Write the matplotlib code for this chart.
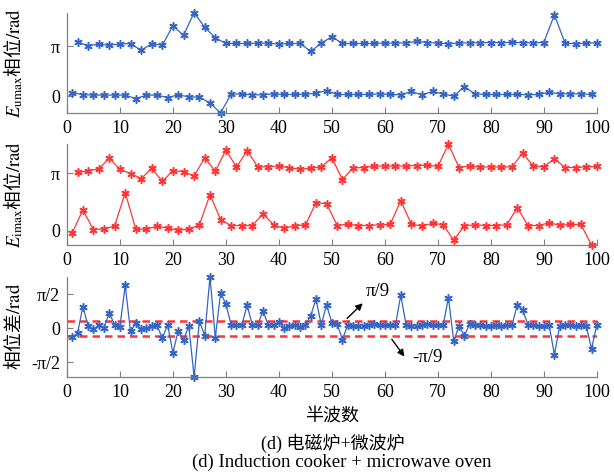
import matplotlib
matplotlib.use('Agg')
import matplotlib.pyplot as plt
import numpy as np

# 字体设置: 数字用Times风格, 中文用CJK
plt.rcParams['font.family'] = ['Liberation Serif', 'Noto Sans CJK SC']
plt.rcParams['mathtext.fontset'] = 'stix'

# 半波序号
x_odd = np.arange(1, 100, 2)
x_even = np.arange(2, 101, 2)
n_half = np.arange(1, 101)

# Eumax 相位 (偶数半波, 奇数半波)
u_even = [3.41, 3.16, 3.27, 3.19, 3.29, 3.29, 2.89, 3.29, 3.20, 4.42,
          3.82, 5.24, 4.32, 3.67, 3.31, 3.31, 3.31, 3.33, 3.33, 3.27,
          3.31, 3.31, 2.81, 3.33, 3.73, 3.31, 3.31, 3.31, 3.31, 3.33,
          3.33, 3.35, 3.44, 3.37, 3.33, 3.29, 3.33, 3.35, 3.35, 3.37,
          3.35, 3.39, 3.35, 3.35, 3.37, 5.11, 3.33, 3.29, 3.33, 3.35]
u_odd = [0.23, 0.10, 0.07, 0.07, 0.07, 0.07, -0.15, 0.07, 0.07, -0.08,
         0.09, -0.04, -0.06, -0.42, -1.05, 0.15, 0.13, 0.09, 0.09, 0.15,
         0.11, 0.11, 0.13, 0.19, 0.36, 0.11, 0.11, 0.11, 0.11, 0.15,
         0.11, 0.09, 0.30, 0.09, 0.30, 0.15, 0.00, 0.61, 0.15, 0.11,
         0.11, 0.11, 0.11, 0.09, 0.11, 0.25, 0.15, 0.15, 0.15, 0.11]

# Eimax 相位
i_even = [3.17, 3.26, 3.37, 3.94, 3.35, 3.11, 2.84, 3.39, 2.69, 3.26,
          3.22, 2.98, 3.97, 3.24, 4.40, 3.46, 4.36, 3.48, 3.48, 3.53,
          3.42, 3.35, 3.40, 3.48, 3.97, 2.78, 3.42, 3.44, 3.52, 3.52,
          3.52, 3.52, 3.55, 3.57, 3.50, 4.71, 3.44, 3.53, 3.46, 3.48,
          3.46, 3.48, 4.23, 3.52, 3.48, 3.92, 3.44, 3.44, 3.48, 3.50]
i_odd = [-0.13, 1.12, 0.05, 0.09, 0.24, 2.07, 0.07, 0.07, 0.24, 0.13,
         0.02, 0.07, 0.31, 1.96, 0.60, 0.27, 0.27, 0.27, 0.92, 0.31,
         0.11, 0.27, 0.29, 1.52, 1.47, 0.27, 0.35, 0.27, 0.27, 0.31,
         0.33, 1.63, 0.35, 0.24, 0.40, 0.31, -0.53, 0.26, 0.31, 0.27,
         0.27, 0.31, 1.25, 0.27, 0.27, 0.42, 0.29, 0.33, 0.33, -0.79]

# 相位差
diff = [-0.41, -0.23, 1.00, 0.12, -0.05, 0.15, 0.03, 0.73, 0.15, 0.08,
        1.99, -0.14, 0.23, -0.05, 0.00, 0.12, 0.14, -0.46, 0.17, -1.13,
        -0.11, -0.55, 0.12, -2.25, 0.34, -0.34, 2.39, -0.44, 1.65, 1.12,
        0.15, 0.15, 0.15, 1.07, 0.15, 0.15, 0.81, 0.15, 0.15, 0.31,
        0.00, 0.12, 0.15, 0.08, 0.15, 0.58, 1.35, 0.17, 1.09, 0.25,
        0.20, -0.52, 0.17, 0.11, 0.12, 0.12, 0.15, 0.20, 0.15, 0.15,
        0.15, 0.15, 1.53, 0.17, 0.12, 0.12, 0.15, 0.18, 0.15, 0.15,
        0.15, 1.42, -0.60, 0.12, -0.34, 0.20, 0.17, 0.15, 0.12, 0.12,
        0.15, 0.12, 0.17, 0.15, 1.09, 0.86, 0.17, 0.15, 0.12, 0.12,
        0.15, -1.21, 0.12, 0.15, 0.15, 0.12, 0.15, 0.12, -0.95, 0.15]

blue = '#3464c4'
red = '#ff3535'
gray = '#808080'
cjk = ['Noto Sans CJK SC', 'DejaVu Sans']
tick_fs = 13
star = (6, 2, 0)  # MATLAB 风格的星号

fig = plt.figure(figsize=(6.14, 4.72), dpi=100)
ax1 = fig.add_axes([0.109, 0.7606, 0.863, 0.2125])
ax2 = fig.add_axes([0.109, 0.481, 0.863, 0.2133])
ax3 = fig.add_axes([0.109, 0.2013, 0.863, 0.2125])


def style_axis(ax):
    for s in ['top', 'right']:
        ax.spines[s].set_visible(False)
    for s in ['left', 'bottom']:
        ax.spines[s].set_color(gray)
        ax.spines[s].set_linewidth(0.9)
    ax.tick_params(direction='in', length=4, color=gray, labelsize=tick_fs,
                   pad=5)
    ax.set_xlim(0, 100)
    ax.set_xticks(np.arange(0, 101, 10))


def draw(ax, x, y, c):
    ax.plot(x, y, '-', color=c, lw=0.9, marker=star, ms=6, mew=1.1,
            clip_on=False)


# 上图: Eumax 相位
draw(ax1, x_even, u_even, blue)
draw(ax1, x_odd, u_odd, blue)
ax1.set_ylim(min(u_odd), max(u_even))
ax1.set_yticks([0, np.pi])
ax1.set_yticklabels(['0', 'π'])
style_axis(ax1)
ax1.set_ylabel(r'$E_{\mathrm{umax}}$相位$\mathrm{/rad}$', family=cjk,
               fontsize=13.5)

# 中图: Eimax 相位
draw(ax2, x_even, i_even, red)
draw(ax2, x_odd, i_odd, red)
ax2.set_ylim(min(i_odd), max(i_even))
ax2.set_yticks([0, np.pi])
ax2.set_yticklabels(['0', 'π'])
style_axis(ax2)
ax2.set_ylabel(r'$E_{\mathrm{imax}}$相位$\mathrm{/rad}$', family=cjk,
               fontsize=13.5)

# 下图: 相位差
ax3.axhline(np.pi / 9, color=red, lw=1.8, ls=(0, (3, 2)))
ax3.axhline(-np.pi / 9, color=red, lw=1.8, ls=(0, (3, 2)))
draw(ax3, n_half, diff, blue)
ax3.set_ylim(min(diff), max(diff))
ax3.set_yticks([-np.pi / 2, 0, np.pi / 2])
ax3.set_yticklabels(['-π/2', '0', 'π/2'])
style_axis(ax3)
ax3.set_ylabel(r'相位差$\mathrm{/rad}$', family=cjk, fontsize=13.5)
ax3.set_xlabel('半波数', family=cjk, fontsize=13)

ax3.annotate('', xy=(56.2, 1.25), xytext=(52.5, 0.37),
             arrowprops=dict(arrowstyle='-|>', color='black', lw=1,
                             mutation_scale=10))
ax3.text(58.7, 1.71, 'π/9', ha='center', va='center', fontsize=13.5)
ax3.annotate('', xy=(64.0, -1.41), xytext=(61.0, -0.40),
             arrowprops=dict(arrowstyle='-|>', color='black', lw=1,
                             mutation_scale=10))
ax3.text(65.1, -1.36, '-π/9', ha='left', va='center', fontsize=13.5)

for ax in [ax1, ax2, ax3]:
    ax.yaxis.set_label_coords(-0.079, 0.5)
ax3.xaxis.set_label_coords(0.5, -0.3)

fig.text(0.542, 1 - 443 / 472, '(d) 电磁炉+微波炉', ha='center', va='center',
         fontsize=13)
fig.text(0.557, 1 - 462 / 472, '(d) Induction cooker + microwave oven',
         ha='center', va='center', fontsize=13.5)

fig.savefig('out.png', dpi=100)
